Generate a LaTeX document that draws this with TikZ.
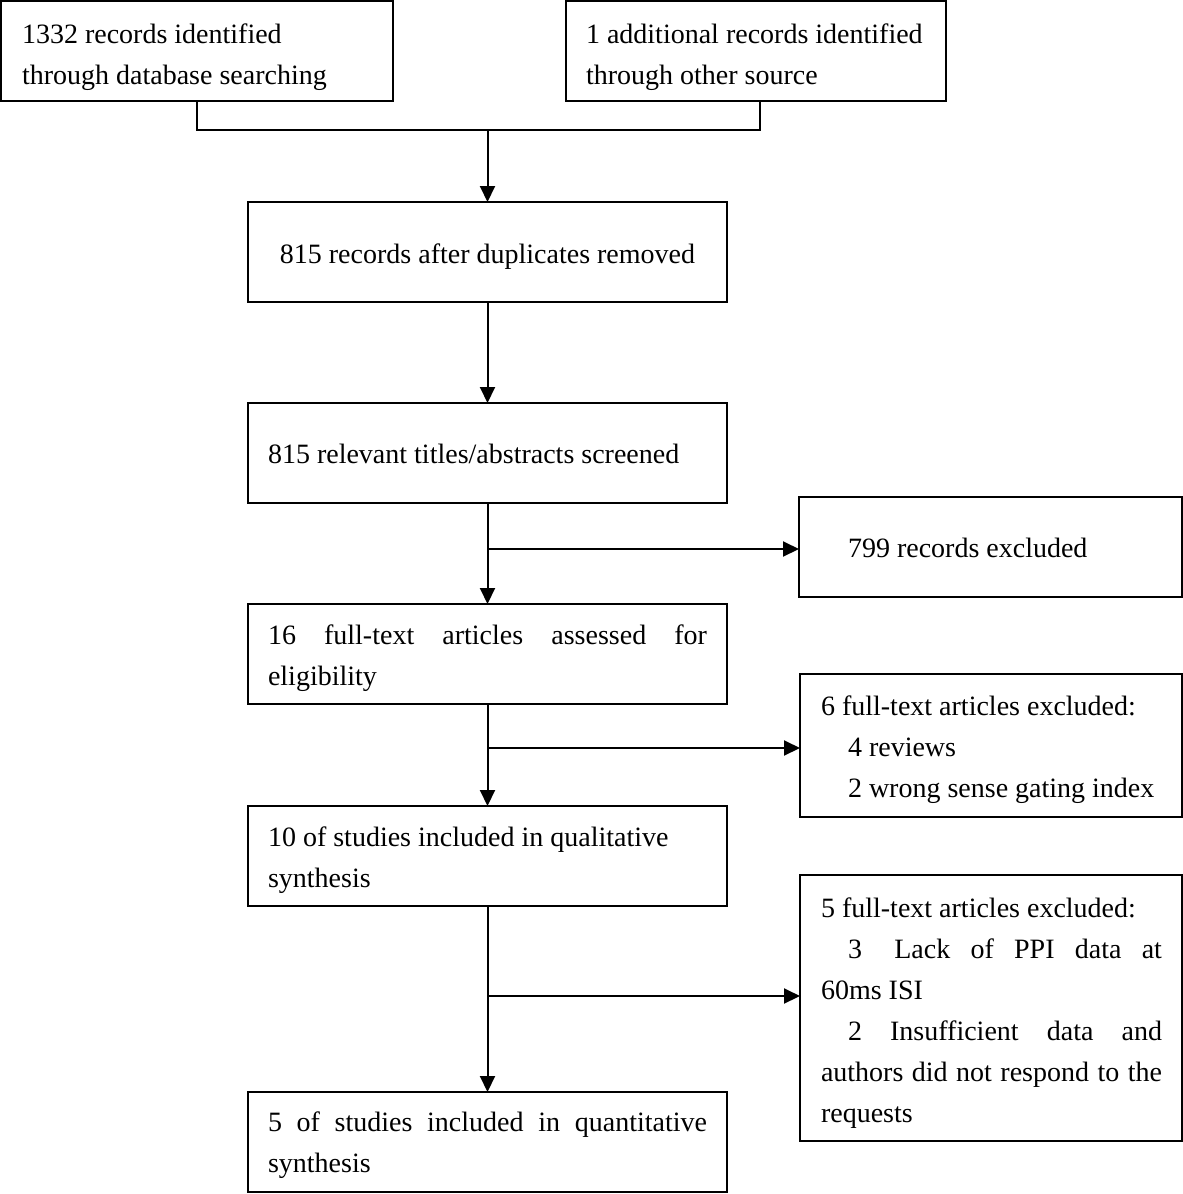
\documentclass[tikz,border=0pt]{standalone}
\usepackage{fontspec}
\setmainfont{Liberation Serif}
\usetikzlibrary{arrows.meta}
\tikzset{
  box/.style={draw, line width=2pt, inner sep=0pt, outer sep=0pt, anchor=north west},
  txt/.style={inner sep=0pt, outer sep=0pt, anchor=base west,
    font={\fontsize{28}{41}\selectfont\hyphenpenalty=10000 \exhyphenpenalty=10000 }},
  para/.style={txt, align=justify, text width=#1},
  ln/.style={line width=2pt},
  arr/.style={line width=2pt, -{Triangle[length=16pt,width=15pt]}}
}
\begin{document}
\begin{tikzpicture}[x=1pt,y=-1pt]
\useasboundingbox (0,0) rectangle (1183,1194);
% boxes
\node[box, minimum width=392pt, minimum height=100pt] (A) at (1,1) {};
\node[box, minimum width=380pt, minimum height=100pt] (B) at (566,1) {};
\node[box, minimum width=479pt, minimum height=100pt] (C) at (248,202) {};
\node[box, minimum width=479pt, minimum height=100pt] (D) at (248,403) {};
\node[box, minimum width=383pt, minimum height=100pt] (E) at (799,497) {};
\node[box, minimum width=479pt, minimum height=100pt] (F) at (248,604) {};
\node[box, minimum width=382pt, minimum height=143pt] (G) at (800,674) {};
\node[box, minimum width=479pt, minimum height=100pt] (H) at (248,806) {};
\node[box, minimum width=382pt, minimum height=266pt] (I) at (800,875) {};
\node[box, minimum width=479pt, minimum height=100pt] (J) at (248,1092) {};
% texts
\node[para=360pt] (tA) at (22,43) {1332 records identified\newline through database searching};
\node[para=355pt] (tB) at (586,43) {1 additional records identified\newline through other source};
\node[txt, anchor=base] (tC) at (487.5,263) {815 records after duplicates removed};
\node[txt] (tD) at (268,463) {815 relevant titles/abstracts screened};
\node[txt] (tE) at (848,557) {799 records excluded};
\node[para=439pt] (tF) at (268,644) {16 full-text articles assessed for\linebreak eligibility};
\node[para=341pt] (tG) at (821,715) {6 full-text articles excluded:\newline\hspace*{27pt}4 reviews\newline\hspace*{27pt}2 wrong sense gating index};
\node[para=439pt] (tH) at (268,846) {10 of studies included in qualitative\newline synthesis};
\node[para=341pt] (tI) at (821,917) {5 full-text articles excluded:\par\hspace*{27pt}3\hspace{12pt} Lack of PPI data at\linebreak 60ms ISI\par\hspace*{27pt}2 Insufficient data and\linebreak authors did not respond to the\linebreak requests};
\node[para=439pt] (tJ) at (268,1131) {5 of studies included in quantitative\linebreak synthesis};
% connectors
\coordinate (jA) at (197,130);
\coordinate (jB) at (760,130);
\coordinate (jC) at (487.5,130);
\draw[ln] (A.south) -- (jA) -- (jB) -- (jB |- B.south);
\draw[arr] (jC) -- (C.north);
\draw[arr] (C) -- (D);
\draw[arr] (D) -- (F);
\coordinate (bE) at (487.5,549);
\draw[arr] (bE) -- (bE -| E.west);
\draw[arr] (F) -- (H);
\coordinate (bG) at (487.5,748);
\draw[arr] (bG) -- (bG -| G.west);
\draw[arr] (H) -- (J);
\coordinate (bI) at (487.5,996);
\draw[arr] (bI) -- (bI -| I.west);
\end{tikzpicture}
\end{document}
